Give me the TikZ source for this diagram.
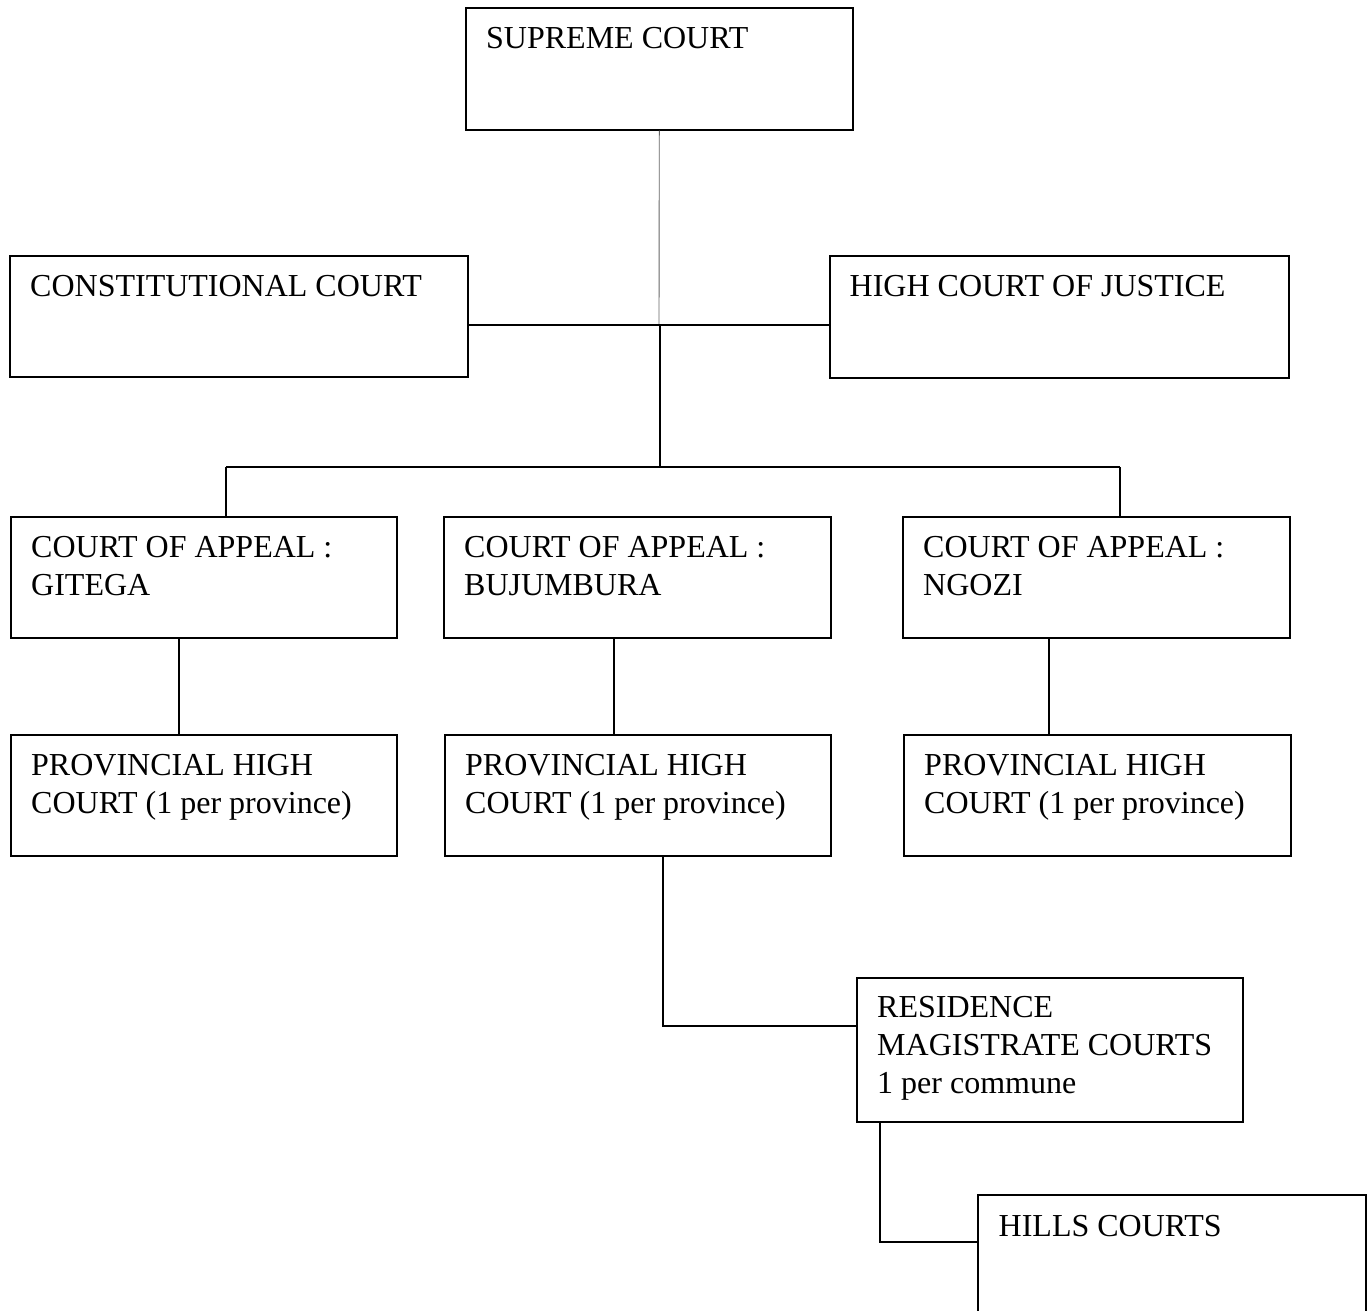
\documentclass[tikz,border=0pt]{standalone}
\usepackage{fontspec}
\setmainfont{Liberation Serif}
\begin{document}
\begin{tikzpicture}[x=1pt,y=-1pt,
  courtbox/.style={draw, line width=1.6pt, inner sep=0pt, anchor=north west, rectangle},
  lbl/.style={anchor=base west, inner sep=0pt, font=\fontsize{32}{38}\selectfont},
  conn/.style={line width=1.4pt},
  thinconn/.style={line width=0.9pt, draw=black!60}]
\clip (0,0) rectangle (1371,1311);
\fill[white] (0,0) rectangle (1371,1311);
% boxes
\node[courtbox, minimum width=387pt, minimum height=122pt] (sc) at (465,7) {};
\node[courtbox, minimum width=458pt, minimum height=121pt] (cc) at (9,255) {};
\node[courtbox, minimum width=459pt, minimum height=122pt] (hcj) at (829,255) {};
\node[courtbox, minimum width=386pt, minimum height=121pt] (gi) at (10,516) {};
\node[courtbox, minimum width=387pt, minimum height=121pt] (bu) at (443,516) {};
\node[courtbox, minimum width=387pt, minimum height=121pt] (ng) at (902,516) {};
\node[courtbox, minimum width=386pt, minimum height=121pt] (pg) at (10,734) {};
\node[courtbox, minimum width=386pt, minimum height=121pt] (pb) at (444,734) {};
\node[courtbox, minimum width=387pt, minimum height=121pt] (pn) at (903,734) {};
\node[courtbox, minimum width=386pt, minimum height=144pt] (rm) at (856,977) {};
\node[courtbox, minimum width=388pt, minimum height=160pt] (hc) at (977,1194) {};
% texts
\node[lbl] (sc-t) at ([shift={(21pt,-41.5pt)}]sc.north west) {\parbox[t]{360pt}{\raggedright SUPREME COURT}};
\node[lbl] (cc-t) at ([shift={(21pt,-41.5pt)}]cc.north west) {\parbox[t]{430pt}{\raggedright CONSTITUTIONAL COURT}};
\node[lbl] (hcj-t) at ([shift={(20.5pt,-41.5pt)}]hcj.north west) {\parbox[t]{430pt}{\raggedright HIGH COURT OF JUSTICE}};
\node[lbl] (gi-t) at ([shift={(21pt,-41.5pt)}]gi.north west) {\parbox[t]{360pt}{\raggedright COURT OF APPEAL :\\GITEGA}};
\node[lbl] (bu-t) at ([shift={(21pt,-41.5pt)}]bu.north west) {\parbox[t]{360pt}{\raggedright COURT OF APPEAL :\\BUJUMBURA}};
\node[lbl] (ng-t) at ([shift={(21pt,-41.5pt)}]ng.north west) {\parbox[t]{360pt}{\raggedright COURT OF APPEAL :\\NGOZI}};
\node[lbl] (pg-t) at ([shift={(21pt,-41.5pt)}]pg.north west) {\parbox[t]{360pt}{\raggedright PROVINCIAL HIGH\\COURT (1 per province)}};
\node[lbl] (pb-t) at ([shift={(21pt,-41.5pt)}]pb.north west) {\parbox[t]{360pt}{\raggedright PROVINCIAL HIGH\\COURT (1 per province)}};
\node[lbl] (pn-t) at ([shift={(21pt,-41.5pt)}]pn.north west) {\parbox[t]{360pt}{\raggedright PROVINCIAL HIGH\\COURT (1 per province)}};
\node[lbl] (rm-t) at ([shift={(21pt,-40.5pt)}]rm.north west) {\parbox[t]{360pt}{\raggedright RESIDENCE\\MAGISTRATE COURTS\\1 per commune}};
\node[lbl] (hc-t) at ([shift={(21.5pt,-42pt)}]hc.north west) {\parbox[t]{360pt}{\raggedright HILLS COURTS}};
% junctions
\coordinate (j1) at (659,325);
\coordinate (j2) at (660,467);
\coordinate (j3) at (226,467);
\coordinate (j4) at (1120,467);
% connectors
\draw[thinconn] (sc.south) -- (j1);
\draw[conn] (cc.east |- j1) -- (hcj.west |- j1);
\draw[conn] (j1 -| j2) -- (j2);
\draw[conn] (j3) -- (j4);
\draw[conn] (j3) -- (j3 |- gi.north);
\draw[conn] (j4) -- (j4 |- ng.north);
\draw[conn] ([xshift=-25pt]gi.south) -- ([xshift=-25pt]gi.south |- pg.north);
\draw[conn] ([xshift=-23.5pt]bu.south) -- ([xshift=-23.5pt]bu.south |- pb.north);
\draw[conn] ([xshift=-47.5pt]ng.south) -- ([xshift=-47.5pt]ng.south |- pn.north);
\draw[conn] ([xshift=25pt]pb.south) |- ([yshift=24pt]rm.west);
\draw[conn] ([xshift=24pt]rm.south west) |- ([yshift=-48pt]hc.north west);
\end{tikzpicture}
\end{document}
